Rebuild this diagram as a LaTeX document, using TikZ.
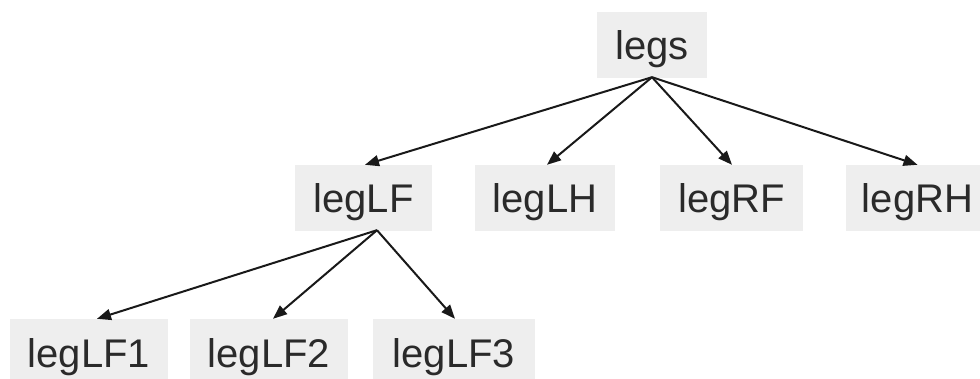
\documentclass[tikz,border=0pt]{standalone}
\usepackage{fontspec}
\setmainfont{Liberation Sans}
\usetikzlibrary{arrows.meta}
\definecolor{boxfill}{HTML}{EEEEEE}
\definecolor{txt}{HTML}{2A2A2A}
\begin{document}
\begin{tikzpicture}[x=1pt,y=-1pt,
  box/.style={fill=boxfill, draw=none, inner sep=0pt, minimum height=66pt,
    text=txt, font=\fontsize{40}{48}\selectfont, text height=30pt, text depth=0pt},
  link/.style={line width=2pt, draw=black!90, -{Triangle[length=14pt,width=11pt]}}]
\useasboundingbox (0,0) rectangle (980,379);
\begin{scope}
\clip (0,0) rectangle (980,379);
\node[box, minimum width=110pt] (legs) at (652,45) {legs};
\node[box, minimum width=137pt] (legLF) at (363.5,198) {legLF};
\node[box, minimum width=140pt] (legLH) at (545,198) {legLH};
\node[box, minimum width=143pt] (legRF) at (731.5,198) {legRF};
\node[box, minimum width=143pt] (legRH) at (917.5,198) {legRH};
\node[box, minimum width=158pt] (legLF1) at (89,352) {legLF1};
\node[box, minimum width=158pt] (legLF2) at (269,352) {legLF2};
\node[box, minimum width=162pt] (legLF3) at (454,352) {legLF3};
\end{scope}
\draw[link] ([yshift=1pt]legs.south) -- ([xshift=1.5pt]legLF.north);
\draw[link] ([yshift=1pt]legs.south) -- ([xshift=2pt]legLH.north);
\draw[link] ([yshift=1pt]legs.south) -- ([xshift=0.5pt]legRF.north);
\draw[link] ([yshift=1pt]legs.south) -- (legRH.north);
\draw[link] ([xshift=13.5pt,yshift=1pt]legLF.south) -- ([xshift=8pt]legLF1.north);
\draw[link] ([xshift=13.5pt,yshift=1pt]legLF.south) -- ([xshift=4pt]legLF2.north);
\draw[link] ([xshift=13.5pt,yshift=1pt]legLF.south) -- ([xshift=1pt]legLF3.north);
\end{tikzpicture}
\end{document}
